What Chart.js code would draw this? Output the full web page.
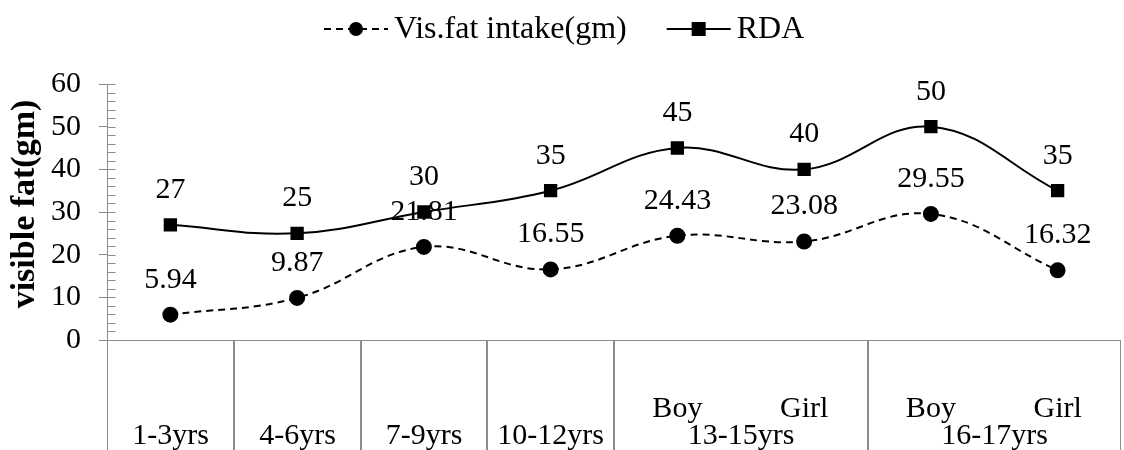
<!DOCTYPE html>
<html>
<head>
<meta charset="utf-8">
<script src="https://cdn.jsdelivr.net/npm/chart.js@4.4.1/dist/chart.umd.min.js"></script>
<style>
  html, body { margin: 0; padding: 0; background: #fff; overflow: hidden; }
  canvas { display: block; }
</style>
</head>
<body>
<canvas id="fatChart" width="1124" height="450"></canvas>
<script>
// ---------------------------------------------------------------------------
// Data
// ---------------------------------------------------------------------------
const ageGroups = ['1-3yrs', '4-6yrs', '7-9yrs', '10-12yrs', '13-15yrs', '13-15yrs', '16-17yrs', '16-17yrs'];
const sexLabels = ['', '', '', '', 'Boy', 'Girl', 'Boy', 'Girl'];
const visFatIntake = [5.94, 9.87, 21.81, 16.55, 24.43, 23.08, 29.55, 16.32];
const rdaValues = [27, 25, 30, 35, 45, 40, 50, 35];
const yTickValues = [0, 10, 20, 30, 40, 50, 60];
const yTitle = 'visible fat(gm)';

const FONT = '"Liberation Serif", "Times New Roman", serif';
const FONT_SIZE = 30;
const AXIS_GREY = '#8c8c8c';

// ---------------------------------------------------------------------------
// Plugins
// ---------------------------------------------------------------------------

// two-level category axis drawn under the plot (Excel style)
const multiLevelAxis = {
    id: 'multiLevelAxis',
    afterDraw(chart) {
        const { ctx, chartArea, scales } = chart;
        const x = scales.x;
        const half = (x.getPixelForValue(1) - x.getPixelForValue(0)) / 2;
        const top = Math.round(chartArea.bottom) + 0.5;
        const bottom = chart.height;

        ctx.save();
        ctx.strokeStyle = AXIS_GREY;
        ctx.lineWidth = 1;
        ctx.beginPath();
        ctx.moveTo(chartArea.left, top);
        ctx.lineTo(chartArea.right, top);
        ctx.stroke();

        ctx.fillStyle = '#000';
        ctx.font = FONT_SIZE + 'px ' + FONT;
        ctx.textAlign = 'center';
        ctx.textBaseline = 'alphabetic';

        let start = 0;
        for (let i = 1; i <= ageGroups.length; i++) {
            if (i === ageGroups.length || ageGroups[i] !== ageGroups[start]) {
                const l = Math.round(x.getPixelForValue(start) - half) + 0.5;
                const r = Math.round(x.getPixelForValue(i - 1) + half) - 0.5;
                ctx.beginPath();
                ctx.moveTo(l, top);
                ctx.lineTo(l, bottom);
                ctx.moveTo(r, top);
                ctx.lineTo(r, bottom);
                ctx.stroke();
                ctx.fillText(ageGroups[start], (l + r) / 2, 444);
                start = i;
            }
        }
        sexLabels.forEach((s, i) => {
            if (s) ctx.fillText(s, x.getPixelForValue(i), 417);
        });
        ctx.restore();
    }
};

// minor ticks, inner half of major ticks, rotated axis title
const valueAxisExtras = {
    id: 'valueAxisExtras',
    afterDraw(chart) {
        const { ctx, scales } = chart;
        const y = scales.y;
        const ax = Math.round(y.right) + 0.5;
        ctx.save();
        ctx.strokeStyle = AXIS_GREY;
        ctx.lineWidth = 1;
        ctx.beginPath();
        for (let v = y.min; v <= y.max; v += 2) {
            const py = Math.round(y.getPixelForValue(v)) + 0.5;
            ctx.moveTo(ax, py);
            ctx.lineTo(ax + 8, py);
        }
        ctx.stroke();

        ctx.translate(25, 204);
        ctx.rotate(-Math.PI / 2);
        ctx.fillStyle = '#000';
        ctx.font = 'bold 34px ' + FONT;
        ctx.textAlign = 'center';
        ctx.textBaseline = 'middle';
        ctx.fillText(yTitle, 0, 0);
        ctx.restore();
    }
};

// value labels above each point
const pointLabels = {
    id: 'pointLabels',
    afterDatasetsDraw(chart) {
        const { ctx } = chart;
        ctx.save();
        ctx.fillStyle = '#000';
        ctx.font = FONT_SIZE + 'px ' + FONT;
        ctx.textAlign = 'center';
        ctx.textBaseline = 'middle';
        chart.data.datasets.forEach((ds, di) => {
            chart.getDatasetMeta(di).data.forEach((pt, i) => {
                ctx.fillText(String(ds.data[i]), pt.x, pt.y - 35);
            });
        });
        ctx.restore();
    }
};

// legend with line + marker sample (like Excel)
const lineLegend = {
    id: 'lineLegend',
    afterDraw(chart) {
        const { ctx } = chart;
        const cy = 29;
        const sample = 64, gapText = 6, gapItem = 40;
        ctx.save();
        ctx.font = '32px ' + FONT;
        const items = chart.data.datasets.map(ds => ({ ds, w: ctx.measureText(ds.label).width }));
        const total = items.reduce((s, it) => s + sample + gapText + it.w, 0) + gapItem * (items.length - 1);
        let x0 = Math.round((chart.width - total) / 2) + 2;
        items.forEach(({ ds, w }) => {
            ctx.strokeStyle = ds.borderColor;
            ctx.lineWidth = ds.borderWidth;
            ctx.setLineDash(ds.borderDash || []);
            ctx.beginPath();
            ctx.moveTo(x0, cy);
            ctx.lineTo(x0 + sample, cy);
            ctx.stroke();
            ctx.setLineDash([]);
            ctx.fillStyle = ds.pointBackgroundColor;
            const mx = x0 + sample / 2;
            if (ds.pointStyle === 'rect') {
                ctx.fillRect(mx - 7, cy - 7, 14, 14);
            } else {
                ctx.beginPath();
                ctx.arc(mx, cy, 7, 0, Math.PI * 2);
                ctx.fill();
            }
            ctx.fillStyle = '#000';
            ctx.textAlign = 'left';
            ctx.textBaseline = 'middle';
            ctx.fillText(ds.label, x0 + sample + gapText, cy + 1);
            x0 += sample + gapText + w + gapItem;
        });
        ctx.restore();
    }
};

// ---------------------------------------------------------------------------
// Chart
// ---------------------------------------------------------------------------
const ctx = document.getElementById('fatChart').getContext('2d');
const chart = new Chart(ctx, {
    type: 'line',
    data: {
        labels: ageGroups.map((g, i) => sexLabels[i] ? g + ' ' + sexLabels[i] : g),
        datasets: [
            {
                label: 'Vis.fat intake(gm)',
                data: visFatIntake,
                borderColor: '#000',
                borderWidth: 2,
                borderDash: [7, 5],
                pointStyle: 'circle',
                pointRadius: 7,
                pointBackgroundColor: '#000',
                pointBorderColor: '#000',
                tension: 0.4
            },
            {
                label: 'RDA',
                data: rdaValues,
                borderColor: '#000',
                borderWidth: 2,
                pointStyle: 'rect',
                pointRadius: 8,
                pointBackgroundColor: '#000',
                pointBorderColor: '#000',
                tension: 0.4
            }
        ]
    },
    options: {
        responsive: false,
        animation: false,
        layout: {
            autoPadding: false,
            padding: { top: 84, right: 3, left: 0, bottom: 0 }
        },
        plugins: {
            legend: { display: false },
            tooltip: { enabled: false }
        },
        scales: {
            x: {
                type: 'category',
                offset: true,
                grid: { display: false },
                border: { display: false },
                ticks: { display: false },
                afterFit(scale) { scale.height = 110; }
            },
            y: {
                min: 0,
                max: 60,
                afterBuildTicks(scale) {
                    scale.ticks = yTickValues.map(v => ({ value: v }));
                },
                afterFit(scale) { scale.width = 107; },
                grid: {
                    drawOnChartArea: false,
                    color: AXIS_GREY,
                    tickLength: 8
                },
                border: { color: AXIS_GREY },
                ticks: {
                    color: '#000',
                    padding: 18,
                    font: { family: FONT, size: FONT_SIZE }
                }
            }
        }
    },
    plugins: [multiLevelAxis, valueAxisExtras, pointLabels, lineLegend]
});
</script>
</body>
</html>
